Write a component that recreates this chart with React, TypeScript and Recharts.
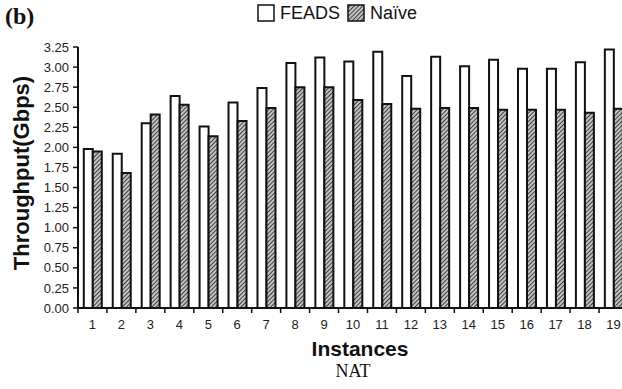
import React from 'react';
import { BarChart, Bar, XAxis, YAxis, Legend } from 'recharts';

const instances = ['1', '2', '3', '4', '5', '6', '7', '8', '9', '10', '11', '12', '13', '14', '15', '16', '17', '18', '19'];
const feadsThroughput = [1.98, 1.92, 2.3, 2.64, 2.26, 2.56, 2.74, 3.05, 3.12, 3.07, 3.19, 2.89, 3.13, 3.01, 3.09, 2.98, 2.98, 3.06, 3.22];
const naiveThroughput = [1.95, 1.68, 2.41, 2.53, 2.14, 2.33, 2.49, 2.75, 2.75, 2.59, 2.54, 2.48, 2.49, 2.49, 2.47, 2.47, 2.47, 2.43, 2.48];
const yTicks = [0, 0.25, 0.5, 0.75, 1, 1.25, 1.5, 1.75, 2, 2.25, 2.5, 2.75, 3, 3.25];

const data = instances.map((name, i) => ({
  name,
  feads: feadsThroughput[i],
  naive: naiveThroughput[i],
}));

const SANS = '"Liberation Sans", Arial, sans-serif';
const SERIF = '"Liberation Serif", "Times New Roman", serif';

// plot is wider than the window, last category gets clipped like the original
const CHART_W = 628;
const CHART_H = 389;
const Y_AXIS_W = 78;
const PLOT_W = CHART_W - Y_AXIS_W;
const BAND = PLOT_W / instances.length;

const XTick = ({ x, y, payload }: any) => (
  <g>
    <line x1={x - BAND / 2} x2={x - BAND / 2} y1={y - 11} y2={y - 6} stroke="#111" strokeWidth={1.5} />
    <text x={x} y={y + 1} dy="0.71em" textAnchor="middle" fontSize={13} fill="#222" fontFamily={SANS}>
      {payload.value}
    </text>
  </g>
);

const HatchPattern = ({ id }: { id: string }) => (
  <pattern id={id} width={3} height={3} patternUnits="userSpaceOnUse" patternTransform="rotate(45)">
    <rect width={3} height={3} fill="#c4c4c4" />
    <line x1={0} y1={0} x2={0} y2={3} stroke="#1a1a1a" strokeWidth={1.6} />
  </pattern>
);

const Swatch = ({ hatched }: { hatched: boolean }) => (
  <svg width={18} height={18} style={{ display: 'block' }}>
    <defs>
      <HatchPattern id="legendHatch" />
    </defs>
    <rect x={1} y={1} width={16} height={16} fill={hatched ? 'url(#legendHatch)' : '#fff'} stroke="#111" strokeWidth={1.5} />
  </svg>
);

const renderLegend = (props: any) => {
  const { payload } = props;
  return (
    <div style={{ display: 'flex', alignItems: 'center', fontFamily: SANS, fontSize: 18, color: '#111' }}>
      {payload.map((entry: any, i: number) => (
        <div key={entry.value} style={{ display: 'flex', alignItems: 'center', marginRight: i === 0 ? 7 : 0 }}>
          <Swatch hatched={entry.dataKey === 'naive'} />
          <span style={{ marginLeft: 5, lineHeight: '18px' }}>{entry.value}</span>
        </div>
      ))}
    </div>
  );
};

export default function App() {
  return (
    <div style={{ position: 'absolute', left: 0, top: 0, width: 622, height: 389, overflow: 'hidden', background: '#fff' }}>
      <BarChart
        width={CHART_W}
        height={CHART_H}
        data={data}
        margin={{ top: 29, right: 0, bottom: 51, left: 0 }}
        barCategoryGap="20%"
        barGap={0}
      >
        <defs>
          <HatchPattern id="hatch" />
        </defs>
        <XAxis
          dataKey="name"
          height={30}
          interval={0}
          tick={<XTick />}
          tickLine={false}
          tickSize={5}
          tickMargin={6}
          axisLine={{ stroke: '#111', strokeWidth: 2 }}
        />
        <YAxis
          width={Y_AXIS_W}
          domain={[0, 3.25]}
          ticks={yTicks}
          interval={0}
          tickFormatter={(v: number) => v.toFixed(2)}
          tick={{ fontSize: 13, fill: '#222', fontFamily: SANS }}
          tickSize={5}
          tickMargin={4}
          tickLine={{ stroke: '#111', strokeWidth: 1.5 }}
          axisLine={{ stroke: '#111', strokeWidth: 2 }}
        />
        <Legend
          verticalAlign="top"
          content={renderLegend}
          wrapperStyle={{ top: 4, left: 257, width: 'auto' }}
        />
        <Bar dataKey="feads" name="FEADS" fill="#fff" stroke="#111" strokeWidth={2} isAnimationActive={false} />
        <Bar dataKey="naive" name="Naïve" fill="url(#hatch)" stroke="#111" strokeWidth={2} isAnimationActive={false} />
      </BarChart>
      <svg width={622} height={389} style={{ position: 'absolute', left: 0, top: 0, pointerEvents: 'none' }}>
        <text x={5} y={24} fontFamily={SERIF} fontWeight="bold" fontSize={24} fill="#111">(b)</text>
        <text
          x={29}
          y={173}
          transform="rotate(-90 29 173)"
          textAnchor="middle"
          fontFamily={SANS}
          fontWeight="bold"
          fontSize={22}
          fill="#111"
        >
          Throughput(Gbps)
        </text>
        <text x={360} y={356} textAnchor="middle" fontFamily={SANS} fontWeight="bold" fontSize={21} fill="#111">
          Instances
        </text>
        <text x={353} y={377} textAnchor="middle" fontFamily={SERIF} fontSize={18} fill="#111">
          NAT
        </text>
      </svg>
    </div>
  );
}
